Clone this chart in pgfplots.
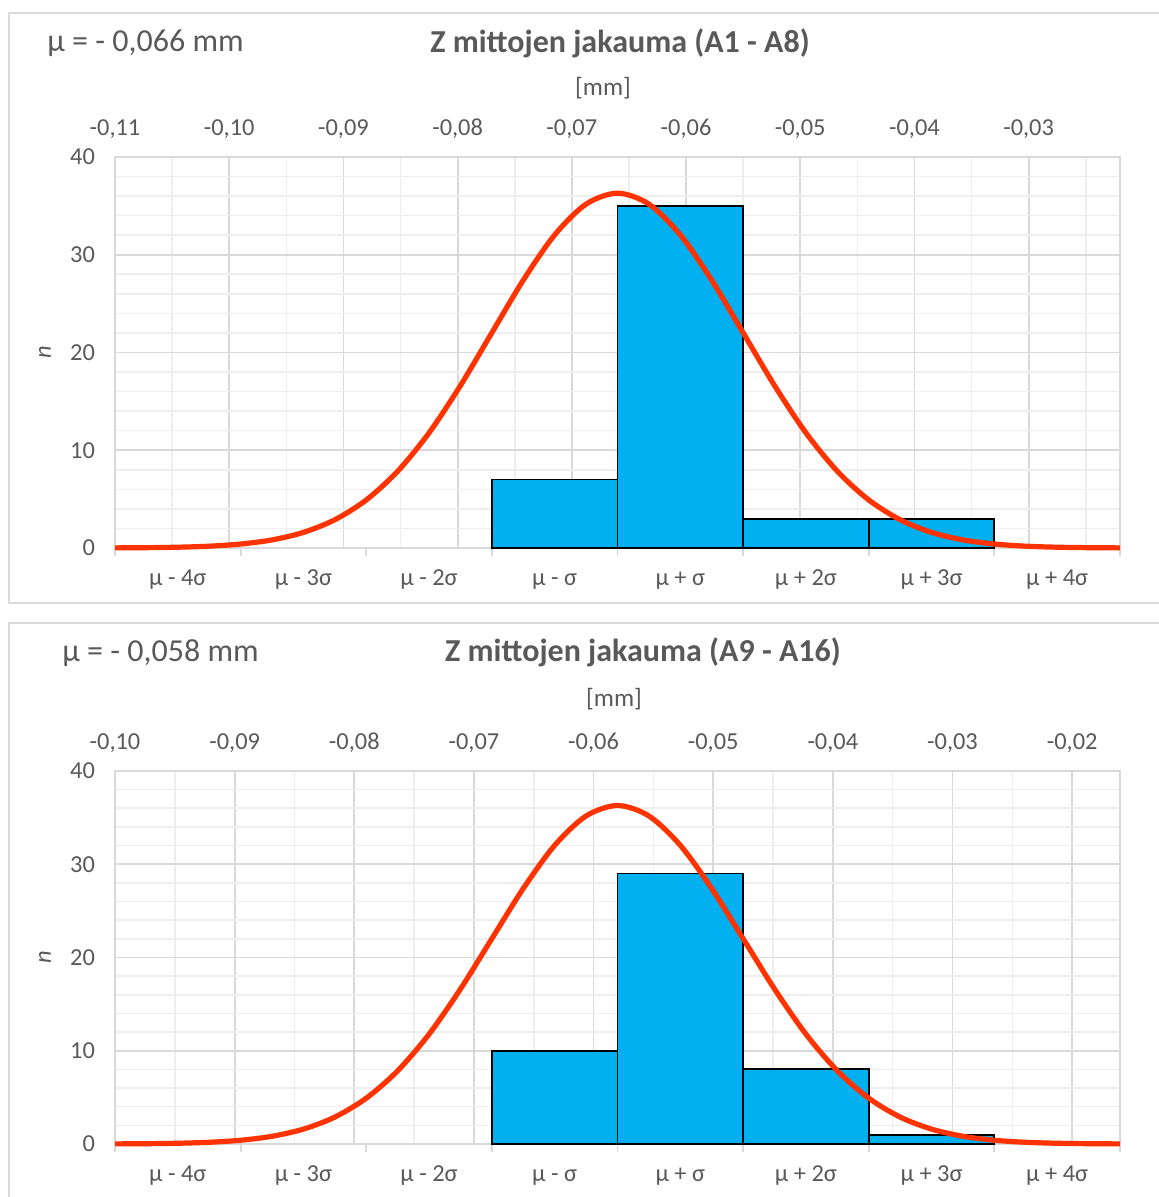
\documentclass[border=0pt]{standalone}
\usepackage{fontspec}
\setmainfont{Carlito}
\usepackage{pgfplots}
\pgfplotsset{compat=1.18}
\definecolor{txt}{HTML}{595959}
\definecolor{gmaj}{HTML}{D9D9D9}
\definecolor{gmin}{HTML}{EEEEEE}
\definecolor{barblue}{HTML}{00B0F0}
\definecolor{curvered}{HTML}{FF3300}
\pgfplotsset{
 gridaxis/.style={
  scale only axis, width=502.5pt, anchor=south west,
  ymin=0, ymax=40, ytick={0,10,20,30,40},
  minor ytick={2,4,6,8,12,14,16,18,22,24,26,28,32,34,36,38},
  grid=both,
  major grid style={gmaj, line width=0.9pt},
  minor grid style={gmin, line width=0.8pt},
  axis line style={gmaj, line width=0.9pt},
  tick style={draw=none},
  xticklabel pos=upper,
  ticklabel style={font=\fontsize{12.2}{14}\selectfont, text=txt},
  xticklabel style={text height=7.5pt, text depth=2pt},
  xticklabel shift=5.3pt,
  yticklabel style={xshift=-6.5pt},
  /pgf/number format/assume math mode=true,
  ylabel={\textit{n}},
  ylabel style={at={(axis description cs:-0.0697,0.5)}, anchor=center, font=\fontsize{12.2}{14}\selectfont, text=txt},
 },
 baraxis/.style={
  scale only axis, width=502.5pt, anchor=south west,
  xmin=0, xmax=8, ymin=0, ymax=40,
  axis x line*=bottom, hide y axis,
  axis line style={gmaj, line width=0.9pt},
  xtick={0.5,1.5,2.5,3.5,4.5,5.5,6.5,7.5},
  xticklabels={{μ - 4σ},{μ - 3σ},{μ - 2σ},{μ - σ},{μ + σ},{μ + 2σ},{μ + 3σ},{μ + 4σ}},
  major tick length=0pt,
  extra x ticks={0,1,2,3,4,5,6,7,8},
  extra x tick labels={},
  extra x tick style={tick align=outside, major tick length=4pt, tick style={draw=gmaj, line width=0.9pt}},
  xticklabel style={font=\fontsize{12.2}{14}\selectfont, text=txt, text height=7.5pt, text depth=2pt},
  xticklabel shift=7.5pt,
  clip=false,
 }
}
\begin{document}
\begin{tikzpicture}
\useasboundingbox (0,0) rectangle (579pt,598.5pt);
% panel frames
\draw[gmaj, line width=0.9pt] (4.5pt,297pt) rectangle (600pt,592pt);
\draw[gmaj, line width=0.9pt] (4.5pt,-20pt) rectangle (600pt,287pt);

% ===== top panel =====
\begin{axis}[gridaxis, at={(57.5pt,324.5pt)}, height=195.5pt,
  xmin=-0.11, xmax=-0.022,
  xtick={-0.11,-0.10,-0.09,-0.08,-0.07,-0.06,-0.05,-0.04,-0.03},
  xticklabels={{-0,11},{-0,10},{-0,09},{-0,08},{-0,07},{-0,06},{-0,05},{-0,04},{-0,03}},
  minor xtick={-0.105,-0.095,-0.085,-0.075,-0.065,-0.055,-0.045,-0.035,-0.025}]
\end{axis}
\begin{axis}[baraxis, at={(57.5pt,324.5pt)}, height=195.5pt]
\addplot[ybar interval, fill=barblue, draw=black, line width=0.9pt] coordinates {(3,7) (4,35) (5,3) (6,3) (7,0)};
\addplot[smooth, curvered, line width=2.6pt] coordinates {
(0,0.012) (0.25,0.032) (0.5,0.079) (0.75,0.184) (1,0.403) (1.25,0.826) (1.5,1.595) (1.75,2.888)
(2,4.912) (2.25,7.85) (2.5,11.78) (2.75,16.62) (3,22.02) (3.25,27.40) (3.5,32.03) (3.75,35.18)
(4,36.3)
(4.25,35.18) (4.5,32.03) (4.75,27.40) (5,22.02) (5.25,16.62) (5.5,11.78) (5.75,7.85)
(6,4.912) (6.25,2.888) (6.5,1.595) (6.75,0.826) (7,0.403) (7.25,0.184) (7.5,0.079) (7.75,0.032) (8,0.012)};
\end{axis}
\node[anchor=base west, inner sep=0, text=txt, font=\fontsize{16}{18}\selectfont] at (23.5pt,572.5pt) {μ = - 0,066 mm};
\node[anchor=base, inner sep=0, text=txt, font=\fontsize{16}{18}\selectfont\bfseries] at (310pt,572pt) {Z mittojen jakauma (A1 - A8)};
\node[anchor=base, inner sep=0, text=txt, font=\fontsize{12.6}{14}\selectfont] at (301.5pt,550.5pt) {[mm]};

% ===== bottom panel =====
\begin{axis}[gridaxis, at={(57.5pt,26.5pt)}, height=186.5pt,
  xmin=-0.10, xmax=-0.016,
  xtick={-0.10,-0.09,-0.08,-0.07,-0.06,-0.05,-0.04,-0.03,-0.02},
  xticklabels={{-0,10},{-0,09},{-0,08},{-0,07},{-0,06},{-0,05},{-0,04},{-0,03},{-0,02}},
  minor xtick={-0.095,-0.085,-0.075,-0.065,-0.055,-0.045,-0.035,-0.025}]
\end{axis}
\begin{axis}[baraxis, at={(57.5pt,26.5pt)}, height=186.5pt]
\addplot[ybar interval, fill=barblue, draw=black, line width=0.9pt] coordinates {(3,10) (4,29) (5,8) (6,1) (7,0)};
\addplot[smooth, curvered, line width=2.6pt] coordinates {
(0,0.012) (0.25,0.032) (0.5,0.079) (0.75,0.184) (1,0.403) (1.25,0.826) (1.5,1.595) (1.75,2.888)
(2,4.912) (2.25,7.85) (2.5,11.78) (2.75,16.62) (3,22.02) (3.25,27.40) (3.5,32.03) (3.75,35.18)
(4,36.3)
(4.25,35.18) (4.5,32.03) (4.75,27.40) (5,22.02) (5.25,16.62) (5.5,11.78) (5.75,7.85)
(6,4.912) (6.25,2.888) (6.5,1.595) (6.75,0.826) (7,0.403) (7.25,0.184) (7.5,0.079) (7.75,0.032) (8,0.012)};
\end{axis}
\node[anchor=base west, inner sep=0, text=txt, font=\fontsize{16}{18}\selectfont] at (31pt,267.5pt) {μ = - 0,058 mm};
\node[anchor=base, inner sep=0, text=txt, font=\fontsize{16}{18}\selectfont\bfseries] at (321.5pt,267.5pt) {Z mittojen jakauma (A9 - A16)};
\node[anchor=base, inner sep=0, text=txt, font=\fontsize{12.6}{14}\selectfont] at (307pt,245pt) {[mm]};
\end{tikzpicture}
\end{document}
